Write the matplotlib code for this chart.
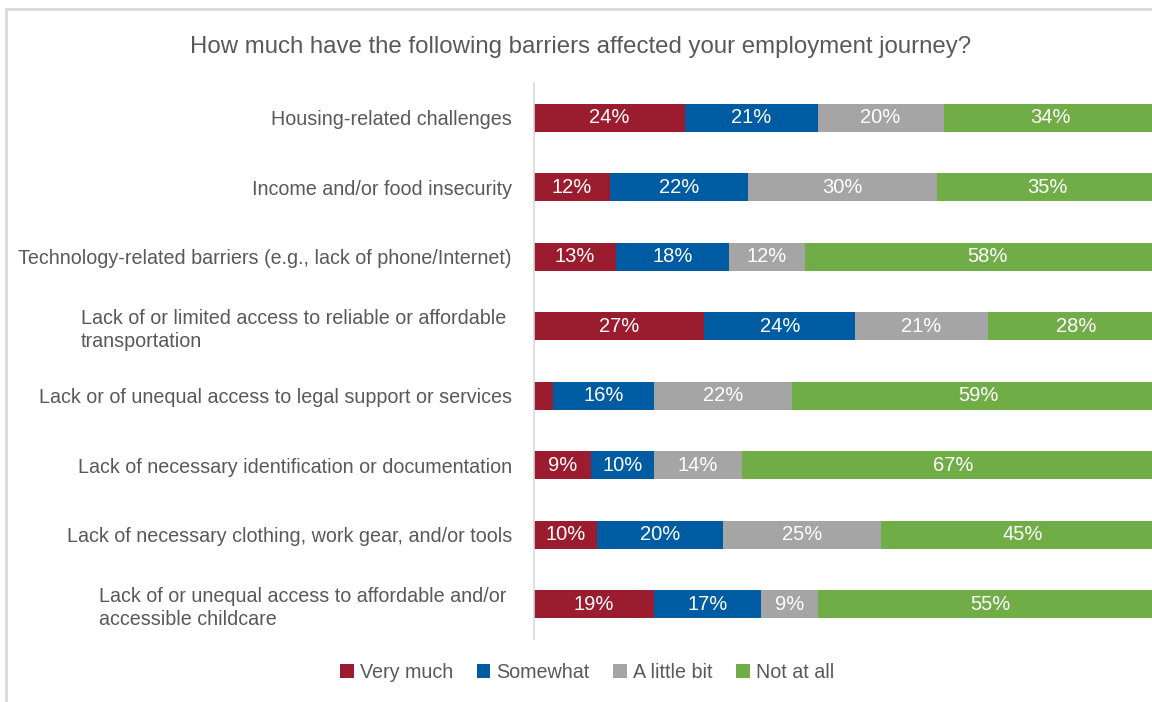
import matplotlib.pyplot as plt
from matplotlib.patches import Rectangle
import numpy as np

plt.rcParams['font.family'] = ['Liberation Sans', 'DejaVu Sans']

barriers = [
    "Housing-related challenges",
    "Income and/or food insecurity",
    "Technology-related barriers (e.g., lack of phone/Internet)",
    "Lack of or limited access to reliable or affordable \ntransportation",
    "Lack or of unequal access to legal support or services",
    "Lack of necessary identification or documentation",
    "Lack of necessary clothing, work gear, and/or tools",
    "Lack of or unequal access to affordable and/or \naccessible childcare",
]
very_much = [24, 12, 13, 27, 3, 9, 10, 19]
somewhat = [21, 22, 18, 24, 16, 10, 20, 17]
little_bit = [20, 30, 12, 21, 22, 14, 25, 9]
not_at_all = [34, 35, 58, 28, 59, 67, 45, 55]

series = [
    ("Very much", very_much, "#9c1c2f"),
    ("Somewhat", somewhat, "#005ca2"),
    ("A little bit", little_bit, "#a5a5a5"),
    ("Not at all", not_at_all, "#70ad47"),
]

W, H = 1152, 702
fig = plt.figure(figsize=(W / 100, H / 100), dpi=100)
ax = fig.add_axes([534 / W, 1 - 639 / H, 630 / W, 556 / H])

y = np.arange(len(barriers))
left = np.zeros(len(barriers))
for name, vals, col in series:
    vals = np.array(vals, dtype=float)
    ax.barh(y, vals, left=left, height=0.4, color=col, label=name)
    for yi, (l, v) in enumerate(zip(left, vals)):
        if v >= 5:
            ax.text(l + v / 2, yi, f"{v:.0f}%", ha="center", va="center",
                    color="white", fontsize=14.5)
    left += vals

ax.set_xlim(0, 100)
ax.set_ylim(len(barriers) - 0.5, -0.5)
ax.set_yticks(y)
ax.set_yticklabels(barriers, fontsize=14.2, color="#595959",
                   multialignment="left", linespacing=1.25)
ax.tick_params(axis="y", length=0, pad=16)
ax.set_xticks([])
for s in ["top", "right", "bottom"]:
    ax.spines[s].set_visible(False)
ax.spines["left"].set_color("#d9d9d9")
ax.spines["left"].set_linewidth(1.2)

fig.text(581 / W, 1 - 47 / H,
         "How much have the following barriers affected your employment journey?",
         ha="center", va="center", fontsize=17.3, color="#595959")

handles, labels = ax.get_legend_handles_labels()
fig.legend(handles, labels, loc="center", bbox_to_anchor=(587 / W, 1 - 672 / H),
           ncol=4, frameon=False, fontsize=14.2, labelcolor="#595959",
           handlelength=0.7, handleheight=0.7, handletextpad=0.3,
           columnspacing=1.2)

# outer chart border
fig.add_artist(Rectangle((6 / W, -0.1), 1.2, 1.1 - 9 / H,
                         transform=fig.transFigure, fill=False,
                         edgecolor="#d9d9d9", linewidth=2))

fig.savefig("out.png", dpi=100)
